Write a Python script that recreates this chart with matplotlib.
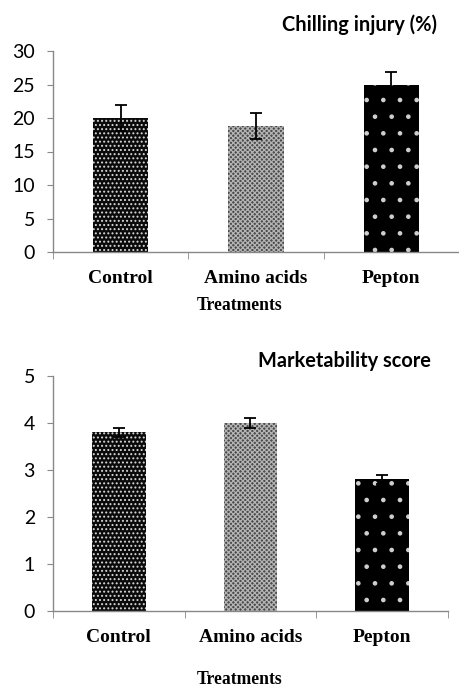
import matplotlib
matplotlib.use('Agg')
import matplotlib.pyplot as plt
import numpy as np

treatments = ['Control', 'Amino acids', 'Pepton']
chilling = [20.0, 18.8, 25.0]
chilling_err = [1.9, 1.9, 1.9]
market = [3.8, 4.0, 2.8]
market_err = [0.1, 0.1, 0.1]

# (facecolor, hatch colour, hatch) per treatment
styles = [('#0a0a0a', '#d8d8d8', '....'),
          ('#4a4a4a', '#b4b4b4', 'xxxxxxx'),
          ('#000000', '#cfcfcf', '.')]

plt.rcParams['hatch.linewidth'] = 0.9

W, H = 460, 688
fig = plt.figure(figsize=(W / 100, H / 100), dpi=100)


def px_axes(left, top, right, bottom):
    return fig.add_axes([left / W, 1 - bottom / H, (right - left) / W, (bottom - top) / H])


def draw(ax, vals, errs, ymax, step, title, title_xy, xlabel_xy):
    x = np.arange(len(treatments))
    for i, (v, e) in enumerate(zip(vals, errs)):
        fc, hc, hatch = styles[i]
        ax.bar(x[i], v, width=0.41, color=fc, edgecolor=hc, hatch=hatch, linewidth=0, zorder=2)
    ax.errorbar(x, vals, yerr=errs, fmt='none', ecolor='black', elinewidth=1.3,
                capsize=4, capthick=1.3, zorder=3)
    ax.set_xlim(-0.5, len(treatments) - 0.5)
    ax.set_ylim(0, ymax)
    ax.set_yticks(np.arange(0, ymax + step / 2, step))
    ax.set_xticks(x)
    ax.set_xticklabels(treatments, family='Liberation Serif', fontweight='bold', fontsize=14)
    ax.set_xticks(np.arange(-0.5, len(treatments)), minor=True)
    ax.tick_params(axis='x', which='major', length=0, pad=13)
    ax.tick_params(axis='x', which='minor', length=5, color='#888888', direction='out')
    ax.tick_params(axis='y', length=4, color='#888888', labelsize=14, pad=9)
    for lab in ax.get_yticklabels():
        lab.set_family('Lato')
    for s in ['top', 'right']:
        ax.spines[s].set_visible(False)
    for s in ['left', 'bottom']:
        ax.spines[s].set_color('#888888')
        ax.spines[s].set_linewidth(1.0)
    fig.text(title_xy[0] / W, 1 - title_xy[1] / H, title, family='Lato', fontweight='bold',
             fontsize=14.4, ha='center', va='center')
    fig.text(xlabel_xy[0] / W, 1 - xlabel_xy[1] / H, 'Treatments', family='Liberation Serif',
             fontweight='bold', fontsize=12.7, ha='center', va='center')


ax1 = px_axes(53, 51, 459, 252)
draw(ax1, chilling, chilling_err, 30, 5, 'Chilling injury (%)', (360, 25), (240, 305))

ax2 = px_axes(53, 376, 448, 611)
draw(ax2, market, market_err, 5, 1, 'Marketability score', (344, 361), (240, 680))

plt.savefig('out.png', dpi=100)
